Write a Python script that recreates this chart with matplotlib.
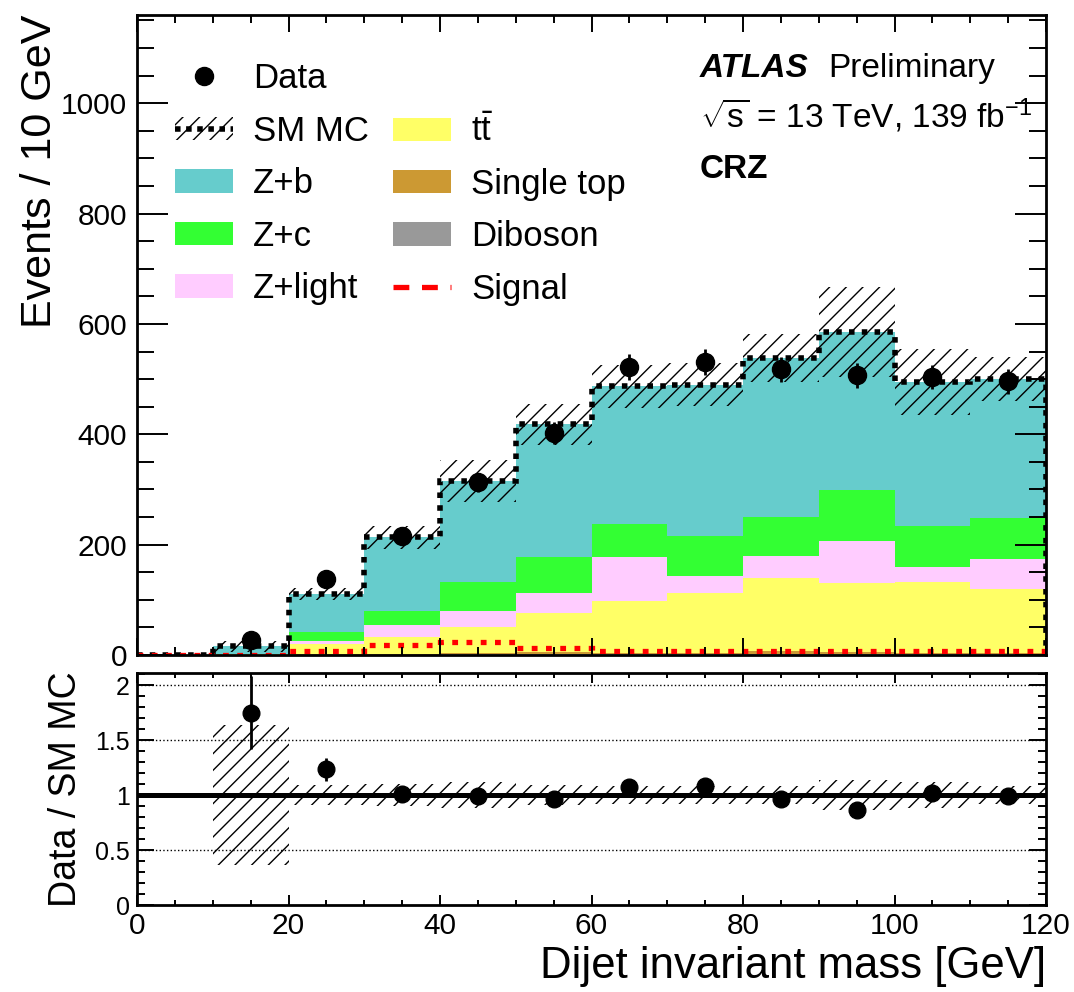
import numpy as np
import matplotlib
matplotlib.use("Agg")
import matplotlib.pyplot as plt
import matplotlib.patches as mpatches
from matplotlib.lines import Line2D
from matplotlib.ticker import MultipleLocator, FuncFormatter

plt.rcParams['font.family'] = ['Liberation Sans', 'DejaVu Sans']
plt.rcParams['mathtext.fontset'] = 'custom'
plt.rcParams['mathtext.rm'] = 'Liberation Sans'
plt.rcParams['mathtext.it'] = 'Liberation Sans:italic'
plt.rcParams['mathtext.bf'] = 'Liberation Sans:bold'
plt.rcParams['hatch.linewidth'] = 1.0

# 10 GeV bins of the dijet invariant mass
bin_edges = np.arange(0, 130, 10)

# background yields per bin, stacked bottom -> top
diboson    = [0, 0,   0.5, 0.5, 1,   1,   1,   1,   1,   1,   1,   1]
single_top = [0, 0,   1.5, 1.5, 2,   4,   3,   3,   6,   4,   3,   3]
ttbar      = [0, 1,  18.5, 31,  47,  72,  94,  108, 132, 126, 128, 116]
z_light    = [0, 0.5, 4.5, 22,  30,  36,  80,  31,  41,  76,  28,  54]
z_c        = [0, 0.5, 17,  25,  53,  65,  60,  73,  71,  92,  73,  74]
z_b        = [0, 14,  69,  133, 183, 240, 249, 274, 287, 286, 262, 252]

# relative MC uncertainty per bin
mc_rel_unc = [0, 0.64, 0.095, 0.10, 0.12, 0.09, 0.08, 0.08, 0.08, 0.14, 0.12, 0.08]

data   = [0, 28, 137, 215, 313, 402, 522, 531, 518, 507, 504, 496]
signal = [0, 0.5, 7, 18, 24, 12, 8, 7, 8, 7, 7, 7]

stack = [
    ("Diboson",    diboson,    "#999999"),
    ("Single top", single_top, "#CC9933"),
    (r"$\mathrm{t\bar{t}}$", ttbar, "#FFFF66"),
    ("Z+light",    z_light,    "#FFCCFF"),
    ("Z+c",        z_c,        "#33FF33"),
    ("Z+b",        z_b,        "#66CCCC"),
]

fig = plt.figure(figsize=(10.74, 9.92), dpi=100)
ax = fig.add_axes([0.1276, 0.3397, 0.8464, 0.6452])
rax = fig.add_axes([0.1276, 0.0877, 0.8464, 0.2339])

# stacked backgrounds
bottom = np.zeros(len(data))
handles = {}
for name, vals, col in stack:
    top = bottom + np.array(vals, dtype=float)
    handles[name] = ax.stairs(top, bin_edges, baseline=bottom, fill=True,
                              color=col, linewidth=0)
    bottom = top
total = bottom
unc = total * np.array(mc_rel_unc)

# MC uncertainty band and total outline
ax.stairs(total + unc, bin_edges, baseline=total - unc, fill=True,
          facecolor='none', edgecolor='black', hatch='//', linewidth=0)
ax.stairs(total, bin_edges, baseline=0, color='black', linewidth=4.0,
          linestyle=(0, (1.0, 1.3)))

# signal overlay
ax.stairs(signal, bin_edges, baseline=None, color='#FF0000', linewidth=3.8,
          linestyle=(0, (1.1, 1.6)))

# data points
centers = 0.5 * (bin_edges[:-1] + bin_edges[1:])
data = np.array(data, dtype=float)
sel = data > 0
ax.errorbar(centers[sel], data[sel], yerr=np.sqrt(data[sel]), fmt='o',
            color='black', markersize=13, elinewidth=2, capsize=0)

ax.set_xlim(0, 120)
ax.set_ylim(0, 1160)
ax.set_ylabel("Events / 10 GeV", fontsize=31, loc='top')
ax.yaxis.set_label_coords(-0.085, 1.0)
ax.yaxis.set_major_locator(MultipleLocator(200))
ax.yaxis.set_minor_locator(MultipleLocator(50))
ax.xaxis.set_major_locator(MultipleLocator(20))
ax.xaxis.set_minor_locator(MultipleLocator(5))
ax.tick_params(which='both', direction='in', top=True, right=True,
               labelbottom=False, labelsize=21.5, width=1.4, pad=7)
ax.tick_params(axis='y', which='major', length=22)
ax.tick_params(axis='y', which='minor', length=12)
ax.tick_params(axis='x', which='major', length=12)
ax.tick_params(axis='x', which='minor', length=6)

# legend
data_h = Line2D([], [], marker='o', color='black', linestyle='none', markersize=13)
mc_h = (mpatches.Patch(facecolor='none', edgecolor='black', hatch='//', linewidth=0),
        Line2D([], [], color='black', linewidth=4.0, linestyle=(0, (1.0, 1.0))))
blank = mpatches.Patch(visible=False)
sig_h = Line2D([], [], color='#FF0000', linewidth=3.8, linestyle=(0, (3.0, 2.4)))
leg_handles = [data_h, mc_h, handles["Z+b"], handles["Z+c"], handles["Z+light"],
               blank, handles[r"$\mathrm{t\bar{t}}$"], handles["Single top"],
               handles["Diboson"], sig_h]
leg_labels = ["Data", "SM MC", "Z+b", "Z+c", "Z+light",
              "", r"$\mathrm{t\bar{t}}$", "Single top", "Diboson", "Signal"]
ax.legend(leg_handles, leg_labels, ncol=2, loc='upper left',
          bbox_to_anchor=(0.042, 0.926), frameon=False, fontsize=25,
          handlelength=1.67, handleheight=0.66, handletextpad=0.58,
          columnspacing=0.69, labelspacing=0.56, borderpad=0, borderaxespad=0)

# labels
ax.text(0.619, 0.903, "ATLAS", transform=ax.transAxes, fontsize=24,
        fontweight='bold', fontstyle='italic', va='baseline')
ax.text(0.760, 0.903, "Preliminary", transform=ax.transAxes, fontsize=24,
        va='baseline')
ax.text(0.619, 0.823, r"$\sqrt{\mathrm{s}}$ = 13 TeV, 139 fb$^{-1}$",
        transform=ax.transAxes, fontsize=24, va='baseline')
ax.text(0.619, 0.745, "CRZ", transform=ax.transAxes, fontsize=24,
        fontweight='bold', va='baseline')

# ratio panel
rel = np.array(mc_rel_unc)
rax.stairs(1 + rel, bin_edges, baseline=1 - rel, fill=True,
           facecolor='none', edgecolor='black', hatch='//', linewidth=0)
for yv in (0.5, 1.5, 2.0):
    rax.axhline(yv, color='black', linestyle=':', linewidth=1.0)
rax.axhline(1.0, color='black', linewidth=3.6)
rsel = sel & (total > 0)
ratio = data[rsel] / total[rsel]
ratio_err = np.sqrt(data[rsel]) / total[rsel]
rax.errorbar(centers[rsel], ratio, yerr=ratio_err, fmt='o', color='black',
             markersize=12, elinewidth=2, capsize=0)

rax.set_xlim(0, 120)
rax.set_ylim(0, 2.11)
rax.set_ylabel("Data / SM MC", fontsize=27)
rax.yaxis.set_label_coords(-0.058, 0.5)
rax.set_xlabel("Dijet invariant mass [GeV]", fontsize=31.5, loc='right')
rax.xaxis.set_label_coords(1.0, -0.175)
rax.xaxis.set_major_locator(MultipleLocator(20))
rax.xaxis.set_minor_locator(MultipleLocator(5))
rax.yaxis.set_major_locator(MultipleLocator(0.5))
rax.yaxis.set_minor_locator(MultipleLocator(0.1))
rax.yaxis.set_major_formatter(FuncFormatter(lambda v, p: f"{v:g}"))
rax.tick_params(which='both', direction='in', top=True, right=True, width=1.4)
rax.tick_params(axis='x', which='major', length=7, labelsize=21.5, pad=5)
rax.tick_params(axis='x', which='minor', length=3.6)
rax.tick_params(axis='y', which='major', length=12, labelsize=18, pad=5)
rax.tick_params(axis='y', which='minor', length=6)

for a in (ax, rax):
    for s in a.spines.values():
        s.set_linewidth(2.0)

fig.savefig("out.png", dpi=100)
